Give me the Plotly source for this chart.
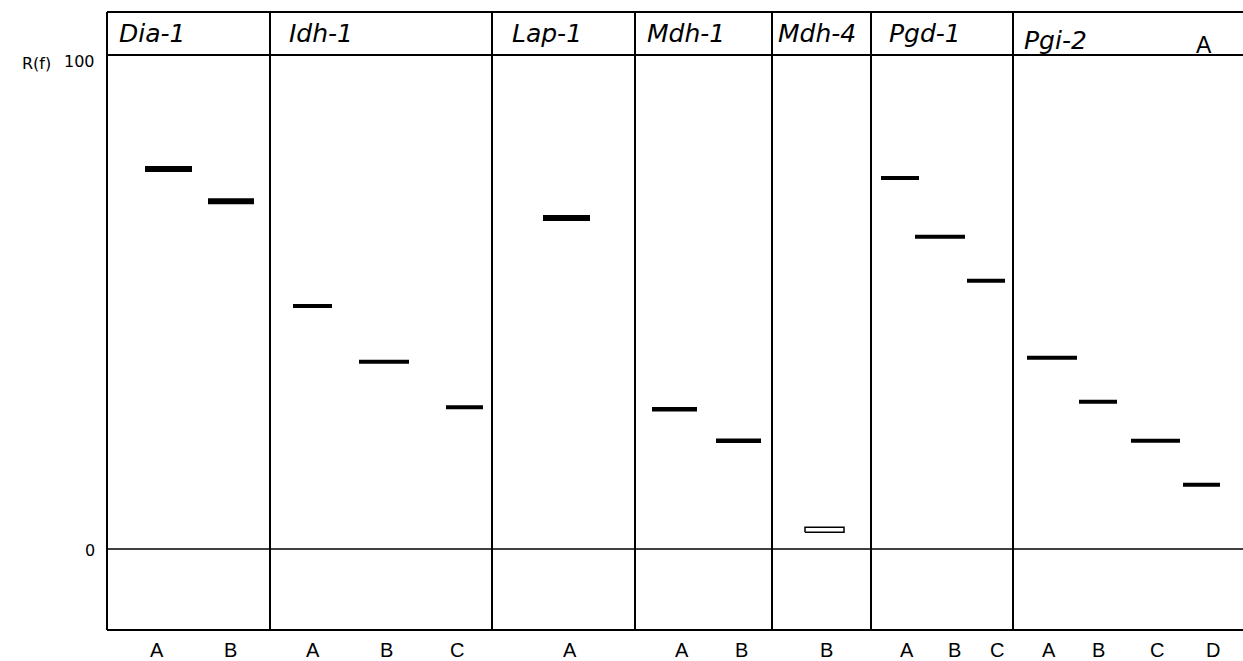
import plotly.graph_objects as go

# ---------------- data ----------------
loci = ["Dia-1", "Idh-1", "Lap-1", "Mdh-1", "Mdh-4", "Pgd-1", "Pgi-2"]
alleles = {
    "Dia-1": ["A", "B"],
    "Idh-1": ["A", "B", "C"],
    "Lap-1": ["A"],
    "Mdh-1": ["A", "B"],
    "Mdh-4": ["B"],
    "Pgd-1": ["A", "B", "C"],
    "Pgi-2": ["A", "B", "C", "D"],
}
rf_values = {
    "Dia-1": [76.9, 70.4],
    "Idh-1": [49.2, 37.9, 28.7],
    "Lap-1": [67.0],
    "Mdh-1": [28.3, 21.9],
    "Mdh-4": [3.9],
    "Pgd-1": [75.1, 63.2, 54.3],
    "Pgi-2": [38.7, 29.8, 21.9, 13.0],
}
y_ticks = [0, 100]
panel_letter = "A"

# ---------------- layout constants (horizontal placement, in px units) ----------------
W, H = 1243, 661
px_per_unit = 4.94
y_zero_px = 549
def ry(px):  # pixel row -> Rf units
    return (y_zero_px - px) / px_per_unit

col_edges = [107, 270, 492, 635, 772, 871, 1013, 1243]
band_x = {  # (left, right) for each band
    "Dia-1": [(145, 192), (208, 254)],
    "Idh-1": [(293, 332), (359, 409), (446, 483)],
    "Lap-1": [(543, 590)],
    "Mdh-1": [(652, 697), (716, 761)],
    "Mdh-4": [(805, 844)],
    "Pgd-1": [(881, 919), (915, 965), (967, 1005)],
    "Pgi-2": [(1027, 1077), (1079, 1117), (1131, 1180), (1183, 1220)],
}
band_w = {"Dia-1": 6, "Idh-1": 4, "Lap-1": 6, "Mdh-1": 4.5, "Mdh-4": 0, "Pgd-1": 4, "Pgi-2": 4}
label_x = {
    "Dia-1": [157, 230], "Idh-1": [313, 386, 457], "Lap-1": [570],
    "Mdh-1": [682, 741], "Mdh-4": [826], "Pgd-1": [907, 954, 997],
    "Pgi-2": [1049, 1098, 1157, 1213],
}
header_x = {"Dia-1": 117, "Idh-1": 287, "Lap-1": 510, "Mdh-1": 645,
            "Mdh-4": 776, "Pgd-1": 887, "Pgi-2": 1022}
header_y = {k: 33 for k in loci}
header_y["Pgi-2"] = 40

fig = go.Figure()

# bands
for locus in loci:
    for (x0, x1), rf in zip(band_x[locus], rf_values[locus]):
        if band_w[locus] > 0:
            fig.add_trace(go.Scatter(x=[x0, x1], y=[rf, rf], mode="lines",
                                     line=dict(color="black", width=band_w[locus]),
                                     hoverinfo="skip", showlegend=False))
        else:
            h = 0.5
            fig.add_trace(go.Scatter(x=[x0, x1, x1, x0, x0],
                                     y=[rf - h, rf - h, rf + h, rf + h, rf - h],
                                     mode="lines", fill="toself", fillcolor="white",
                                     line=dict(color="black", width=1.5),
                                     hoverinfo="skip", showlegend=False))

# frame lines
top, bottom = ry(12), ry(630)
lw = 2
shapes = []
shapes.append(dict(type="line", x0=col_edges[0], x1=W, y0=top, y1=top, line=dict(color="black", width=lw)))
shapes.append(dict(type="line", x0=col_edges[0], x1=W, y0=y_ticks[1], y1=y_ticks[1], line=dict(color="black", width=lw)))
shapes.append(dict(type="line", x0=col_edges[0], x1=W, y0=y_ticks[0], y1=y_ticks[0], line=dict(color="black", width=1.6)))
shapes.append(dict(type="line", x0=col_edges[0], x1=W, y0=bottom, y1=bottom, line=dict(color="black", width=lw)))
for xe in col_edges[:-1]:
    shapes.append(dict(type="line", x0=xe, x1=xe, y0=bottom, y1=top, line=dict(color="black", width=lw)))

annotations = []
for locus in loci:
    annotations.append(dict(x=header_x[locus], y=ry(header_y[locus]), text="<i>%s</i>" % locus,
                            xanchor="left", yanchor="middle", showarrow=False,
                            font=dict(family="DejaVu Sans", size=25, color="black")))
    for lx, al in zip(label_x[locus], alleles[locus]):
        annotations.append(dict(x=lx, y=ry(650), text=al, xanchor="center", yanchor="middle",
                                showarrow=False,
                                font=dict(family="Liberation Sans", size=20, color="black")))
annotations.append(dict(x=1204, y=ry(45), text=panel_letter, xanchor="center", yanchor="middle",
                        showarrow=False, font=dict(family="Liberation Sans", size=23, color="black")))
annotations.append(dict(x=20, y=ry(63), text="R(f)", xanchor="left", yanchor="middle",
                        showarrow=False, font=dict(family="DejaVu Sans", size=16, color="black")))
annotations.append(dict(x=97, y=ry(61), text=str(y_ticks[1]), xanchor="right", yanchor="middle",
                        showarrow=False, font=dict(family="DejaVu Sans", size=16, color="black")))
annotations.append(dict(x=97, y=ry(550), text=str(y_ticks[0]), xanchor="right", yanchor="middle",
                        showarrow=False, font=dict(family="DejaVu Sans", size=16, color="black")))

fig.update_layout(
    width=W, height=H,
    margin=dict(l=0, r=0, t=0, b=0),
    paper_bgcolor="white", plot_bgcolor="white",
    xaxis=dict(range=[0, W], visible=False, fixedrange=True),
    yaxis=dict(range=[ry(H), ry(0)], visible=False, fixedrange=True),
    shapes=shapes, annotations=annotations, showlegend=False,
)
fig.write_html("out.html", config={"displayModeBar": False},
               post_script="document.body.style.margin='0';document.body.style.overflow='hidden';")
